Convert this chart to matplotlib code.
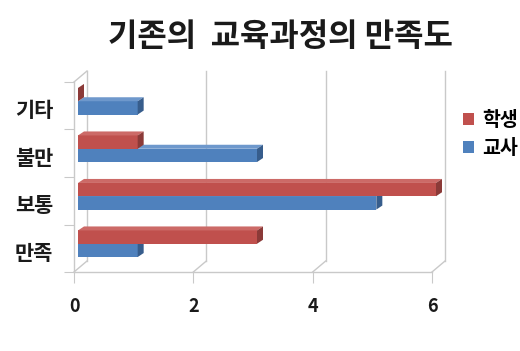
import matplotlib
matplotlib.use('Agg')
import matplotlib.pyplot as plt
from matplotlib.patches import Polygon
from matplotlib.transforms import offset_copy
import numpy as np

plt.rcParams['font.family'] = ['Noto Sans CJK KR', 'DejaVu Sans']

# ---- data ----
categories = ['만족', '보통', '불만', '기타']
students = [3, 6, 1, 0]
teachers = [1, 5, 3, 1]
series_names = ['학생', '교사']
xticks = [0, 2, 4, 6]
title = '기존의  교육과정의 만족도'

# ---- style ----
W, H = 520, 351
red_front, red_top, red_side = '#C0504D', '#CC6A67', '#8B3A38'
blue_front, blue_top, blue_side = '#4F81BD', '#6E98CC', '#375D8C'
grid_c = '#C9C9C9'
txt_c = '#1A1A1A'

fig = plt.figure(figsize=(W / 100, H / 100), dpi=100)
ax = fig.add_axes([74 / W, (H - 272) / H, (432 - 74) / W, (272 - 82) / H])
xmin, xmax = 0, 6
ymin, ymax = -0.5, len(categories) - 0.5
ax.set_xlim(xmin, xmax)
ax.set_ylim(ymin, ymax)
ax.patch.set_visible(False)

pos = ax.get_position()
px_x = pos.width * W / (xmax - xmin)
px_y = pos.height * H / (ymax - ymin)

# back wall / floor (offset into depth)
back = offset_copy(ax.transData, fig=fig, x=13, y=11, units='dots')
for xv in xticks:
    ax.plot([xv, xv], [ymin, ymax], color=grid_c, lw=1.0, transform=back,
            clip_on=False, zorder=0.5)
    ax.plot([xv, xv + 13 / px_x], [ymin, ymin + 11 / px_y], color=grid_c,
            lw=1.0, clip_on=False, zorder=0.5)
ax.plot([0, 13 / px_x], [ymax, ymax + 11 / px_y], color=grid_c, lw=1.0,
        clip_on=False, zorder=0.5)

# bars (in a plane slightly behind the front axis)
bar_tr = offset_copy(ax.transData, fig=fig, x=4, y=4.5, units='dots')
ypos = np.arange(len(categories))
hgt = 0.28
dxs = 6 / px_x
dys = 4 / px_y


def draw_series(vals, offs, front, top, side, label):
    bars = ax.barh(ypos + offs, vals, height=hgt, color=front, transform=bar_tr,
                   label=label, zorder=3, clip_on=False, linewidth=0)
    for b in bars:
        x0, y0 = b.get_x(), b.get_y()
        w, h = b.get_width(), b.get_height()
        ax.add_patch(Polygon([(x0, y0 + h), (x0 + w, y0 + h),
                              (x0 + w + dxs, y0 + h + dys), (x0 + dxs, y0 + h + dys)],
                             closed=True, facecolor=top, edgecolor='none',
                             transform=bar_tr, zorder=3, clip_on=False))
        ax.add_patch(Polygon([(x0 + w, y0), (x0 + w + dxs, y0 + dys),
                              (x0 + w + dxs, y0 + h + dys), (x0 + w, y0 + h)],
                             closed=True, facecolor=side, edgecolor='none',
                             transform=bar_tr, zorder=3, clip_on=False))
    return bars


hb = draw_series(teachers, -hgt / 2, blue_front, blue_top, blue_side, series_names[1])
hr = draw_series(students, hgt / 2, red_front, red_top, red_side, series_names[0])

# front axis
for s in ['top', 'right']:
    ax.spines[s].set_visible(False)
for s in ['left', 'bottom']:
    ax.spines[s].set_color(grid_c)
    ax.spines[s].set_linewidth(1.0)

ax.set_yticks(np.arange(len(categories) + 1) - 0.5)
ax.set_yticklabels([])
ax.set_yticks(ypos - 0.06, minor=True)
ax.set_yticklabels(categories, minor=True, fontsize=15, fontweight='bold', color=txt_c)
ax.tick_params(axis='y', which='major', length=7, color=grid_c, direction='out')
ax.tick_params(axis='y', which='minor', length=0, pad=15)

ax.set_xticks(xticks)
ax.set_xticklabels([str(v) for v in xticks], fontsize=13, fontweight='bold', color=txt_c)
ax.tick_params(axis='x', length=8, color=grid_c, direction='out', pad=10)

fig.text(280 / W, 1 - 37 / H, title, ha='center', va='center', fontsize=23,
         fontweight='bold', color=txt_c)

ax.legend([hr, hb], series_names, loc='upper left',
          bbox_to_anchor=(463 / W, 1 - 111 / H), bbox_transform=fig.transFigure,
          frameon=False, handlelength=0.55, handleheight=0.55,
          handletextpad=0.45, labelspacing=0.45, borderpad=0, borderaxespad=0,
          prop={'weight': 'bold', 'size': 14})

fig.savefig('out.png', dpi=100)
